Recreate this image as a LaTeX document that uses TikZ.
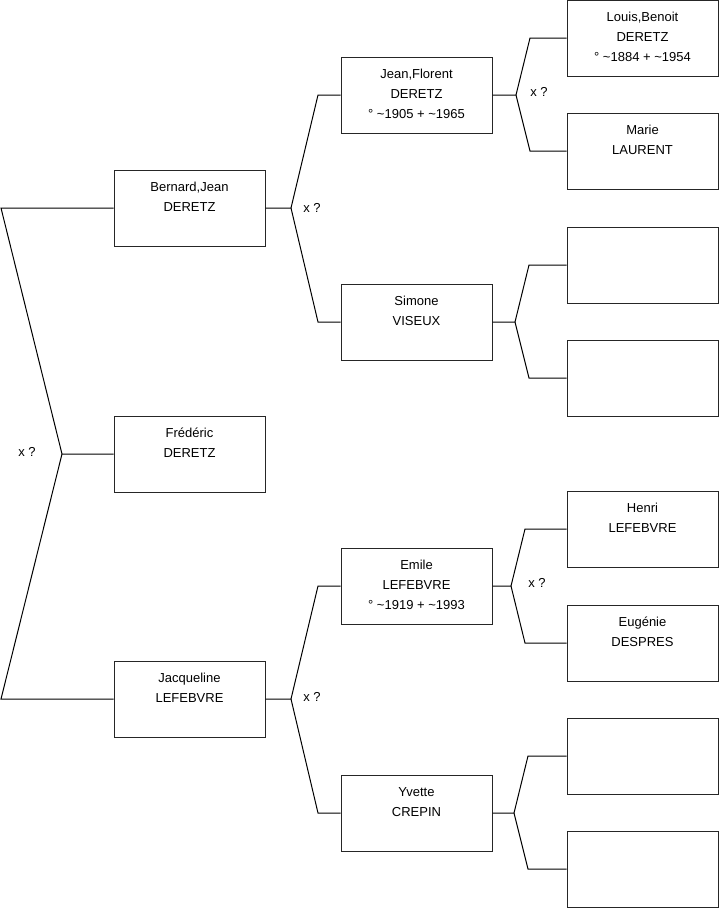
\documentclass[tikz,border=0pt]{standalone}
\usepackage{fontspec}
\setmainfont{Liberation Sans}
\newcommand\boxlines[1]{\vtop{\baselineskip=20pt\halign{\hfil##\hfil\cr#1\crcr}}}
\begin{document}
\begin{tikzpicture}[x=1pt,y=-1pt,
  box/.style={draw=black!85,line width=1pt,minimum width=151pt,minimum height=76pt,inner sep=0pt},
  txt/.style={anchor=base,inner sep=0pt,font=\fontsize{13}{20}\selectfont},
  lnk/.style={draw=black,line width=1pt},
  xq/.style={inner sep=0pt,font=\fontsize{13}{20}\selectfont}]
\useasboundingbox (0,0) rectangle (719,908);
% generation 1
\node[box] (b1) at (189.5,208) {};
\node[box] (b2) at (189.5,454) {};
\node[box] (b3) at (189.5,699) {};
% generation 2
\node[box] (c1) at (416.5,95) {};
\node[box] (c2) at (416.5,322) {};
\node[box] (c3) at (416.5,586) {};
\node[box] (c4) at (416.5,813) {};
% generation 3
\node[box] (d1) at (642.5,38) {};
\node[box] (d2) at (642.5,151) {};
\node[box] (d3) at (642.5,265) {};
\node[box] (d4) at (642.5,378) {};
\node[box] (d5) at (642.5,529) {};
\node[box] (d6) at (642.5,643) {};
\node[box] (d7) at (642.5,756) {};
\node[box] (d8) at (642.5,869) {};
% texts
\node[txt] (b1t) at ([yshift=-21.5pt]b1.north) {\boxlines{Bernard,Jean\cr DERETZ}};
\node[txt] (b2t) at ([yshift=-21.5pt]b2.north) {\boxlines{Frédéric\cr DERETZ}};
\node[txt] (b3t) at ([yshift=-21.5pt]b3.north) {\boxlines{Jacqueline\cr LEFEBVRE}};
\node[txt] (c1t) at ([yshift=-21.5pt]c1.north) {\boxlines{Jean,Florent\cr DERETZ\cr ° \textasciitilde1905 + \textasciitilde1965}};
\node[txt] (c2t) at ([yshift=-21.5pt]c2.north) {\boxlines{Simone\cr VISEUX}};
\node[txt] (c3t) at ([yshift=-21.5pt]c3.north) {\boxlines{Emile\cr LEFEBVRE\cr ° \textasciitilde1919 + \textasciitilde1993}};
\node[txt] (c4t) at ([yshift=-21.5pt]c4.north) {\boxlines{Yvette\cr CREPIN}};
\node[txt] (d1t) at ([yshift=-21.5pt]d1.north) {\boxlines{Louis,Benoit\cr DERETZ\cr ° \textasciitilde1884 + \textasciitilde1954}};
\node[txt] (d2t) at ([yshift=-21.5pt]d2.north) {\boxlines{Marie\cr LAURENT}};
\node[txt] (d5t) at ([yshift=-21.5pt]d5.north) {\boxlines{Henri\cr LEFEBVRE}};
\node[txt] (d6t) at ([yshift=-21.5pt]d6.north) {\boxlines{Eugénie\cr DESPRES}};
% root fork
\coordinate (r0) at (62,454);
\coordinate (rt) at (1,208);
\coordinate (rb) at (1,699);
\draw[lnk] (b1.west) -- (rt) -- (r0) -- (b2.west);
\draw[lnk] (r0) -- (rb) -- (b3.west);
\node[xq] (x0) at (27,452) {x ?};
% Bernard fork
\coordinate (f1) at (291,208);
\coordinate (f1a) at (318,95);
\coordinate (f1b) at (318,322);
\draw[lnk] (b1.east) -- (f1) -- (f1a) -- (c1.west);
\draw[lnk] (f1) -- (f1b) -- (c2.west);
\node[xq] (x1) at (312,208) {x ?};
% Jacqueline fork
\coordinate (f2) at (291,699);
\coordinate (f2a) at (318,586);
\coordinate (f2b) at (318,813);
\draw[lnk] (b3.east) -- (f2) -- (f2a) -- (c3.west);
\draw[lnk] (f2) -- (f2b) -- (c4.west);
\node[xq] (x2) at (312,697) {x ?};
% Jean,Florent fork
\coordinate (g1) at (516,95);
\coordinate (g1a) at (530,38);
\coordinate (g1b) at (530,151);
\draw[lnk] (c1.east) -- (g1) -- (g1a) -- (d1.west);
\draw[lnk] (g1) -- (g1b) -- (d2.west);
\node[xq] (x3) at (539,92) {x ?};
% Simone fork
\coordinate (g2) at (515,322);
\coordinate (g2a) at (529,265);
\coordinate (g2b) at (529,378);
\draw[lnk] (c2.east) -- (g2) -- (g2a) -- (d3.west);
\draw[lnk] (g2) -- (g2b) -- (d4.west);
% Emile fork
\coordinate (g3) at (511,586);
\coordinate (g3a) at (525,529);
\coordinate (g3b) at (525,643);
\draw[lnk] (c3.east) -- (g3) -- (g3a) -- (d5.west);
\draw[lnk] (g3) -- (g3b) -- (d6.west);
\node[xq] (x4) at (537,583) {x ?};
% Yvette fork
\coordinate (g4) at (514,813);
\coordinate (g4a) at (528,756);
\coordinate (g4b) at (528,869);
\draw[lnk] (c4.east) -- (g4) -- (g4a) -- (d7.west);
\draw[lnk] (g4) -- (g4b) -- (d8.west);
\end{tikzpicture}
\end{document}
